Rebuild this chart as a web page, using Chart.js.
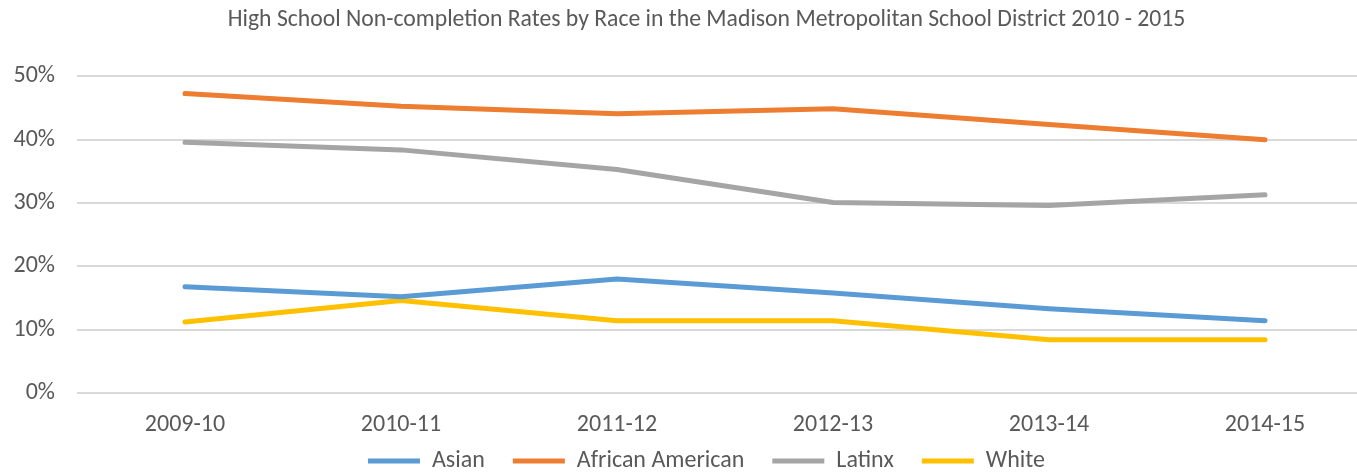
<!DOCTYPE html>
<html>
<head>
<meta charset="utf-8">
<script src="https://cdn.jsdelivr.net/npm/chart.js@4/dist/chart.umd.min.js"></script>
<style>
  html, body { margin: 0; padding: 0; background: #fff; overflow: hidden; }
  #wrap { width: 1413px; height: 474px; }
</style>
</head>
<body>
<div id="wrap"><canvas id="chart"></canvas></div>
<script>
// Data
const years = ['2009-10', '2010-11', '2011-12', '2012-13', '2013-14', '2014-15'];
const asian = [16.8, 15.2, 18.0, 15.8, 13.3, 11.4];
const africanAmerican = [47.3, 45.3, 44.1, 44.9, 42.4, 40.0];
const latinx = [39.6, 38.4, 35.3, 30.1, 29.6, 31.3];
const white = [11.2, 14.6, 11.4, 11.4, 8.4, 8.4];
const yTicks = [0, 10, 20, 30, 40, 50];

const textColor = '#595959';
const fontFamily = "Carlito, 'Liberation Sans Narrow', 'Open Sans', sans-serif";

function series(label, data, color) {
    return {
        label: label,
        data: data,
        borderColor: color,
        backgroundColor: color,
        borderWidth: 5,
        borderCapStyle: 'round',
        borderJoinStyle: 'round',
        pointRadius: 0,
        pointHoverRadius: 0,
        tension: 0
    };
}

// legend takes little room in the layout, then gets moved up
// so its (large) padding doesn't push the plot area around
const legendPlace = {
    id: 'legendPlace',
    beforeLayout(chart) {
        const lg = chart.legend;
        if (lg && !lg._fixed) {
            const fit = lg.fit;
            lg.fit = function () {
                fit.call(this);
                this.height = 21;
            };
            lg._fixed = true;
        }
    },
    afterLayout(chart) {
        const lg = chart.legend;
        if (lg) {
            lg.top = 421;
            lg.bottom = 474;
        }
    }
};

new Chart(document.getElementById('chart'), {
    type: 'line',
    plugins: [legendPlace],
    data: {
        labels: years,
        datasets: [
            series('Asian', asian, '#5B9BD5'),
            series('African American', africanAmerican, '#ED7D31'),
            series('Latinx', latinx, '#A5A5A5'),
            series('White', white, '#FFC000')
        ]
    },
    options: {
        responsive: true,
        maintainAspectRatio: false,
        animation: false,
        layout: { padding: 0 },
        plugins: {
            title: {
                display: true,
                text: 'High School Non-completion Rates by Race in the Madison Metropolitan School District 2010 - 2015',
                color: textColor,
                font: { family: fontFamily, size: 23.7, weight: 'normal' },
                padding: { top: 6, bottom: 42 }
            },
            legend: {
                position: 'bottom',
                labels: {
                    color: textColor,
                    font: { family: fontFamily, size: 24 },
                    usePointStyle: true,
                    pointStyle: 'line',
                    pointStyleWidth: 52,
                    padding: 28
                }
            },
            tooltip: { enabled: false }
        },
        scales: {
            x: {
                offset: true,
                grid: { display: false },
                border: { display: false },
                ticks: {
                    color: textColor,
                    font: { family: fontFamily, size: 24 },
                    padding: 10,
                    maxRotation: 0
                },
                afterFit: function (scale) { scale.height = 60; }
            },
            y: {
                min: 0,
                max: 50,
                afterBuildTicks: function (scale) {
                    scale.ticks = yTicks.map(v => ({ value: v }));
                },
                grid: { color: '#D9D9D9', lineWidth: 2, drawTicks: false },
                border: { display: false },
                ticks: {
                    color: textColor,
                    font: { family: fontFamily, size: 24 },
                    padding: 22,
                    callback: v => v + '%'
                },
                afterFit: function (scale) { scale.width = 77; }
            },
            // empty axis on the right, only reserves space
            yRight: {
                position: 'right',
                grid: { display: false },
                border: { display: false },
                ticks: { display: false },
                afterFit: function (scale) { scale.width = 40; }
            }
        }
    }
});
</script>
</body>
</html>
